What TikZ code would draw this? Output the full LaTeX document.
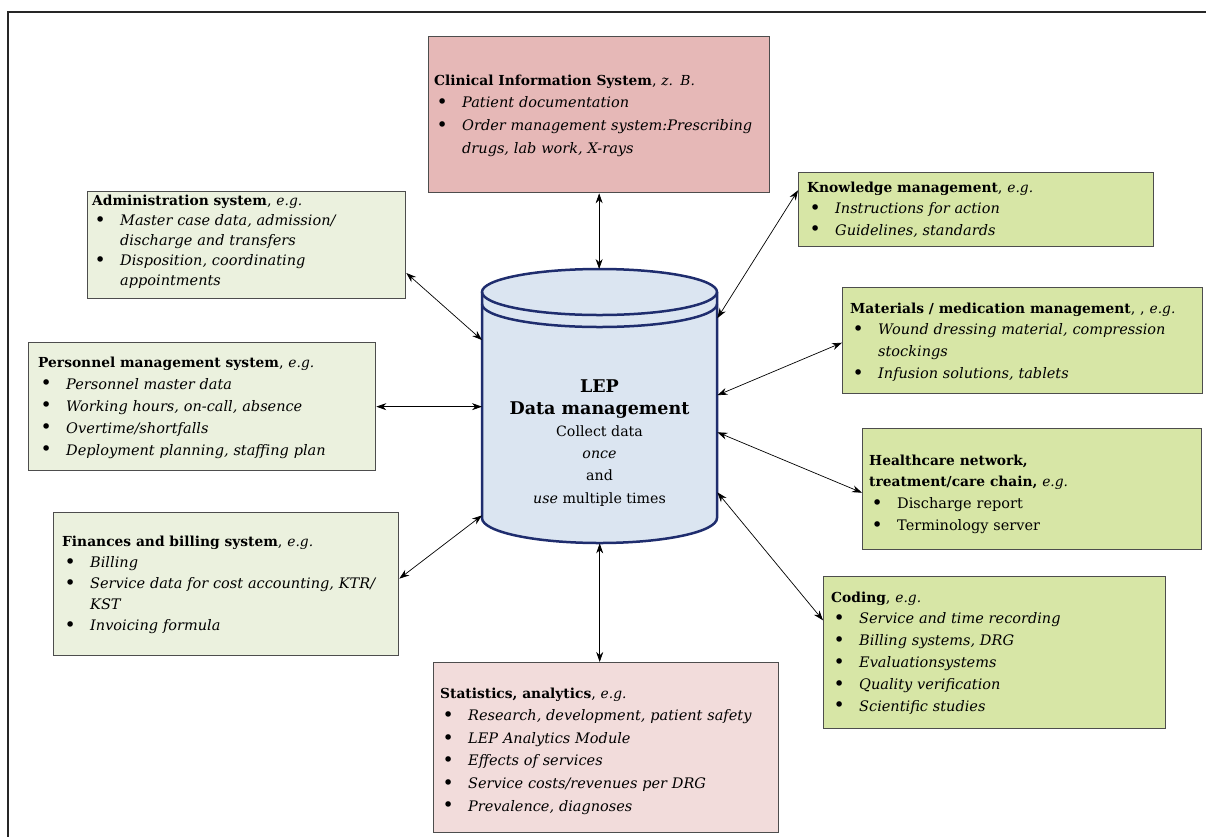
\documentclass[tikz,border=0pt]{standalone}
\usepackage{fontspec}
\setmainfont{DejaVu Serif}
\usetikzlibrary{arrows.meta,calc}
\definecolor{clinfill}{HTML}{E6B8B7}
\definecolor{statfill}{HTML}{F2DCDB}
\definecolor{lightgreen}{HTML}{EBF1DE}
\definecolor{limegreen}{HTML}{D7E6A6}
\definecolor{boxline}{HTML}{4D4D4D}
\definecolor{cylfill}{HTML}{DBE5F1}
\definecolor{cylline}{HTML}{1F2D6E}
\newcommand\bi{\hspace*{2.5pt}\makebox[25.5pt][l]{\raisebox{-0.8pt}{\fontsize{19}{0}\selectfont\textbullet}}}
\newcommand\ci{\hspace*{28pt}}
\newcommand\ttl[1]{{\fontsize{13.8}{0}\selectfont\textbf{#1}}}
\newcommand\eg[1]{{\fontsize{13.8}{0}\selectfont\textit{#1}}}
\begin{document}
\begin{tikzpicture}[x=1pt,y=-1pt,
  box/.style={draw=boxline, line width=1.3pt, inner sep=0pt, anchor=north west},
  txt/.style={anchor=base west, inner sep=0pt, align=left, text width=#1,
    font=\fontsize{14.5}{21.8}\selectfont},
  dbl/.style={{Stealth[length=10pt,width=7pt]}-{Stealth[length=10pt,width=7pt]}, line width=0.7pt, black}]
\useasboundingbox (0,0) rectangle (1206,836);
% outer frame
\draw[line width=2.6pt, black!85] (8,850) -- (8,12) -- (1220,12);

% boxes
\node[box, fill=clinfill, minimum width=341pt, minimum height=156pt] (clin) at (428,36) {};
\node[box, fill=lightgreen, minimum width=318pt, minimum height=107pt] (adm) at (87,191) {};
\node[box, fill=limegreen, minimum width=355pt, minimum height=74pt] (know) at (798,172) {};
\node[box, fill=limegreen, minimum width=360pt, minimum height=106pt] (mat) at (842,287) {};
\node[box, fill=lightgreen, minimum width=347pt, minimum height=128pt] (pers) at (28,342) {};
\node[box, fill=limegreen, minimum width=339pt, minimum height=121pt] (hc) at (862,428) {};
\node[box, fill=lightgreen, minimum width=345pt, minimum height=143pt] (fin) at (53,512) {};
\node[box, fill=limegreen, minimum width=342pt, minimum height=152pt] (cod) at (823,576) {};
\node[box, fill=statfill, minimum width=345pt, minimum height=170pt] (stat) at (433,662) {};

% texts
\node[txt=330pt, font=\fontsize{14.5}{22.7}\selectfont] (clin-t) at (434,85) {%
\ttl{Clinical Information System}, \eg{z. B.}\\
\bi\textit{Patient documentation}\\
\bi\textit{Order management system:Prescribing}\\
\ci\textit{drugs, lab work, X-rays}};
\node[txt=312pt, font=\fontsize{14.5}{20.2}\selectfont] (adm-t) at (92,205) {%
\ttl{Administration system}, \eg{e.g.}\\
\bi\textit{Master case data, admission/}\\
\ci\textit{discharge and transfers}\\
\bi\textit{Disposition, coordinating}\\
\ci\textit{appointments}};
\node[txt=340pt, font=\fontsize{14.5}{21.5}\selectfont] (know-t) at (807,192) {%
\ttl{Knowledge management}, \eg{e.g.}\\
\bi\textit{Instructions for action}\\
\bi\textit{Guidelines, standards}};
\node[txt=350pt] (mat-t) at (850,313) {%
\ttl{Materials / medication management}, , \eg{e.g.}\\
\bi\textit{Wound dressing material, compression}\\
\ci\textit{stockings}\\
\bi\textit{Infusion solutions, tablets}};
\node[txt=335pt, font=\fontsize{14.5}{22}\selectfont] (pers-t) at (38,367) {%
\ttl{Personnel management system}, \eg{e.g.}\\
\bi\textit{Personnel master data}\\
\bi\textit{Working hours, on-call, absence}\\
\bi\textit{Overtime/shortfalls}\\
\bi\textit{Deployment planning, staffing plan}};
\node[txt=328pt] (hc-t) at (869,465) {%
\ttl{Healthcare network,}\\
\ttl{treatment/care chain,} \eg{e.g.}\\
\bi Discharge report\\
\bi Terminology server};
\node[txt=336pt, font=\fontsize{14.5}{21.2}\selectfont] (fin-t) at (62,546) {%
\ttl{Finances and billing system}, \eg{e.g.}\\
\bi\textit{Billing}\\
\bi\textit{Service data for cost accounting, KTR/}\\
\ci\textit{KST}\\
\bi\textit{Invoicing formula}};
\node[txt=330pt] (cod-t) at (831,602) {%
\ttl{Coding}, \eg{e.g.}\\
\bi\textit{Service and time recording}\\
\bi\textit{Billing systems, DRG}\\
\bi\textit{Evaluationsystems}\\
\bi\textit{Quality verification}\\
\bi\textit{Scientific studies}};
\node[txt=336pt, font=\fontsize{14.5}{22.6}\selectfont] (stat-t) at (440,698) {%
\ttl{Statistics, analytics}, \eg{e.g.}\\
\bi\textit{Research, development, patient safety}\\
\bi\textit{LEP Analytics Module}\\
\bi\textit{Effects of services}\\
\bi\textit{Service costs/revenues per DRG}\\
\bi\textit{Prevalence, diagnoses}};

% cylinder
\node[draw=none, inner sep=0pt, minimum width=235pt, minimum height=274pt, anchor=north west] (cyl) at (482,269) {};
\fill[cylfill] (482,292) -- (482,518) arc[start angle=180, end angle=0, x radius=117.5, y radius=25] -- (717,292) -- cycle;
\fill[cylfill] (599.5,292) ellipse [x radius=117.5, y radius=23];
\draw[cylline, line width=2.5pt] (599.5,292) ellipse [x radius=117.5, y radius=23];
\draw[cylline, line width=2.5pt] (482,304) arc[start angle=180, end angle=0, x radius=117.5, y radius=23];
\draw[cylline, line width=2.5pt] (482,292) -- (482,518) arc[start angle=180, end angle=0, x radius=117.5, y radius=25] -- (717,292);
\node[align=center, inner sep=0pt, font=\fontsize{14.2}{22.2}\selectfont, anchor=base] (cyl-t) at (599.5,503) {%
{\fontsize{17.5}{25}\selectfont\textbf{LEP}}\\
{\fontsize{17.5}{25}\selectfont\textbf{Data management}}\\
Collect data\\
\textit{once}\\
and\\
\textit{use} multiple times};

% connectors
\draw[dbl] (clin.south) -- (clin.south |- cyl.north);
\draw[dbl] (cyl.south) -- (cyl.south |- stat.north);
\draw[dbl] ($(adm.north east)!0.757!(adm.south east)$) -- ($(cyl.north west)!0.259!(cyl.south west)$);
\draw[dbl] ($(know.north west)!0.243!(know.south west)$) -- ($(cyl.north east)!0.179!(cyl.south east)$);
\draw[dbl] ($(mat.north west)!0.519!(mat.south west)$) -- ($(cyl.north east)!0.46!(cyl.south east)$);
\draw[dbl] (pers.east) -- (pers.east -| cyl.west);
\draw[dbl] ($(hc.north west)!0.529!(hc.south west)$) -- ($(cyl.north east)!0.595!(cyl.south east)$);
\draw[dbl] ($(cod.north west)!0.289!(cod.south west)$) -- ($(cyl.north east)!0.814!(cyl.south east)$);
\draw[dbl] ($(fin.north east)!0.462!(fin.south east)$) -- ($(cyl.north west)!0.898!(cyl.south west)$);
\end{tikzpicture}
\end{document}
